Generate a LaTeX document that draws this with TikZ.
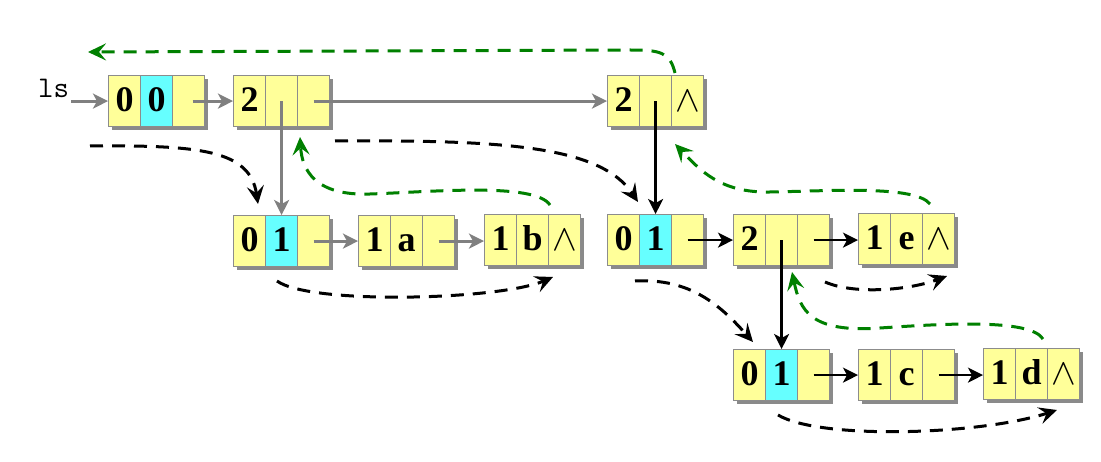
\documentclass[tikz,border=0pt]{standalone}
\usepackage{fix-cm}
\usepackage{fontspec}
\setmainfont{Liberation Serif}
\usetikzlibrary{arrows.meta}
\definecolor{yel}{HTML}{FFFF99}
\definecolor{cyn}{HTML}{66FFFF}
\definecolor{bord}{HTML}{8C8C8C}
\definecolor{shad}{HTML}{8A8A8A}
\definecolor{garr}{HTML}{808080}
\definecolor{grn}{HTML}{008000}
\tikzset{
  cell/.style={draw=bord, line width=1.2pt, minimum width=32pt, minimum height=51pt,
    inner sep=0pt, anchor=north west, text height=20pt, text depth=0pt,
    font=\fontsize{36}{36}\selectfont\bfseries, fill=yel},
  shadowbox/.style={fill=shad},
  garrow/.style={color=garr, line width=3pt, -{Stealth[length=15pt,width=15pt,inset=4pt]}},
  barrow/.style={color=black, line width=2.5pt, -{Stealth[length=15pt,width=15pt,inset=4pt]}},
  bdash/.style={color=black, line width=3pt, dash pattern=on 13pt off 9pt,
    -{Stealth[length=18pt,width=17pt,inset=7pt]}},
  gdash/.style={bdash, color=grn}
}
\newcommand\wdg{{\mdseries\fontsize{37}{37}\selectfont$\wedge$}}
% name, x, y(top), t1, t2, t3, middle colour
\newcommand\myrec[7]{%
  \fill[shadowbox] (#2+4,#3+4) rectangle ++(96,51);
  \node[cell] (#1a) at (#2,#3) {#4};
  \node[cell,fill=#7] (#1b) at (#2+32,#3) {#5};
  \node[cell] (#1c) at (#2+64,#3) {#6};
}
\begin{document}
\begin{tikzpicture}[x=1pt,y=-1pt]
\fill[white] (0,0) rectangle (1101,462);
\useasboundingbox (0,0) rectangle (1101,462);

\myrec{A}{108}{75}{0}{0}{}{cyn}
\myrec{B}{233}{75}{2}{}{}{yel}
\myrec{C}{607}{75}{2}{}{\wdg}{yel}
\myrec{D}{233}{215}{0}{1}{}{cyn}
\myrec{E}{358}{215}{1}{a}{}{yel}
\myrec{F}{484}{214}{1}{b}{\wdg}{yel}
\myrec{G}{607}{214}{0}{1}{}{cyn}
\myrec{H}{733}{214}{2}{}{}{yel}
\myrec{I}{858}{213}{1}{e}{\wdg}{yel}
\myrec{J}{733}{349}{0}{1}{}{cyn}
\myrec{K}{858}{349}{1}{c}{}{yel}
\myrec{L}{983}{348}{1}{d}{\wdg}{yel}

\node[anchor=base west, inner sep=0pt, font=\ttfamily\fontsize{30}{30}\selectfont] (ls) at (38,98) {ls};

% gray pointers
\draw[garrow] (ls.east |- Aa.west) ++(2,0) -- (Aa.west);
\draw[garrow] ([xshift=4pt]Ac.center) -- (Ba.west);
\draw[garrow] (Bc.center) -- (Ca.west);
\draw[garrow] (Bb.center) -- (Db.north);
\draw[garrow] (Dc.center) -- (Ea.west);
\draw[garrow] (Ec.center) -- (Ec.center -| Fa.west);

% black pointers
\draw[barrow] (Cb.center) -- (Gb.north);
\draw[barrow] (Gc.center) -- (Ha.west);
\draw[barrow] (Hc.center) -- (Hc.center -| Ia.west);
\draw[barrow] (Hb.center) -- (Jb.north);
\draw[barrow] (Jc.center) -- (Ka.west);
\draw[barrow] (Kc.center) -- (Kc.center -| La.west);

% traversal coordinates
\coordinate (s1) at (90,146);   \coordinate (e1) at (258,204);
\coordinate (s2) at (335,141);  \coordinate (e2) at (638,202);
\coordinate (s3) at (277,281);  \coordinate (e3) at (553,277);
\coordinate (s4) at (635,281);  \coordinate (e4) at (753,342);
\coordinate (s5) at (825,282);  \coordinate (e5) at (947,276);
\coordinate (s6) at (778,415);  \coordinate (e6) at (1057,410);
\coordinate (g1s) at (675,73);  \coordinate (g1e) at (88,52);
\coordinate (g2s) at (550,205); \coordinate (g2e) at (300,137);
\coordinate (g3s) at (930,204); \coordinate (g3e) at (675,144);
\coordinate (g4s) at (1043,339);\coordinate (g4e) at (792,272);

% black dashed traversal
\draw[bdash] (s1) .. controls (200,145) and (250,150) .. (e1);
\draw[bdash] (s2) .. controls (500,140) and (600,145) .. (e2);
\draw[bdash] (s3) .. controls (310,305) and (500,300) .. (e3);
\draw[bdash] (s4) .. controls (690,278) and (720,305) .. (e4);
\draw[bdash] (s5) .. controls (855,295) and (910,290) .. (e5);
\draw[bdash] (s6) .. controls (820,440) and (980,435) .. (e6);

% green dashed returns
\draw[gdash] (g1s) .. controls (670,52) and (660,50) .. (630,50) -- (g1e);
\draw[gdash] (g2s) .. controls (535,182) and (430,192) .. (370,194)
  .. controls (315,196) and (302,170) .. (g2e);
\draw[gdash] (g3s) .. controls (915,185) and (830,191) .. (770,192)
  .. controls (720,193) and (700,170) .. (g3e);
\draw[gdash] (g4s) .. controls (1030,318) and (940,324) .. (880,328)
  .. controls (810,333) and (800,310) .. (g4e);
\end{tikzpicture}
\end{document}
